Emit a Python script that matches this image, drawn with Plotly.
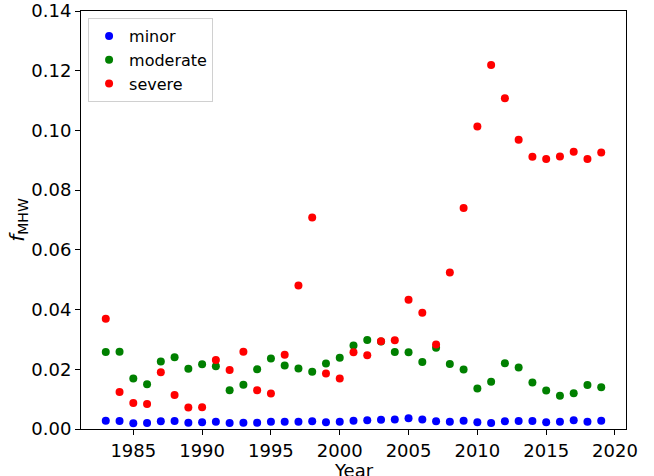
import plotly.graph_objects as go

years = list(range(1983, 2020))

minor = [0.0028, 0.0027, 0.0019, 0.0020, 0.0026, 0.0027, 0.0021, 0.0023, 0.0024, 0.0020,
         0.0021, 0.0021, 0.0024, 0.0024, 0.0024, 0.0026, 0.0023, 0.0024, 0.0028, 0.0029,
         0.0031, 0.0032, 0.0036, 0.0032, 0.0026, 0.0024, 0.0028, 0.0023, 0.0020, 0.0026,
         0.0027, 0.0027, 0.0023, 0.0024, 0.0029, 0.0024, 0.0028]

moderate = [0.0258, 0.0259, 0.0169, 0.0150, 0.0226, 0.0240, 0.0202, 0.0217, 0.0210, 0.0130,
            0.0148, 0.0200, 0.0236, 0.0213, 0.0203, 0.0192, 0.0219, 0.0239, 0.0280, 0.0298,
            0.0293, 0.0258, 0.0257, 0.0224, 0.0272, 0.0218, 0.0199, 0.0136, 0.0158, 0.0220,
            0.0206, 0.0156, 0.0129, 0.0111, 0.0120, 0.0147, 0.0140]

severe = [0.0369, 0.0124, 0.0087, 0.0084, 0.0190, 0.0114, 0.0072, 0.0073, 0.0231, 0.0198,
          0.0259, 0.0130, 0.0119, 0.0249, 0.0481, 0.0708, 0.0186, 0.0169, 0.0257, 0.0247,
          0.0294, 0.0297, 0.0433, 0.0389, 0.0283, 0.0524, 0.0740, 0.1013, 0.1219, 0.1108,
          0.0969, 0.0912, 0.0904, 0.0913, 0.0929, 0.0904, 0.0926]

series = [("minor", minor, "blue"), ("moderate", moderate, "green"), ("severe", severe, "red")]

x_ticks = [1985, 1990, 1995, 2000, 2005, 2010, 2015, 2020]

font_family = "DejaVu Sans"

fig = go.Figure()
for name, vals, color in series:
    fig.add_trace(go.Scatter(
        x=years, y=vals, mode="markers", name=name,
        marker=dict(color=color, size=8, line=dict(width=0)),
    ))

axis_common = dict(
    showline=True, linecolor="black", linewidth=1, mirror=True,
    ticks="outside", ticklen=5, tickwidth=1, tickcolor="black",
    showgrid=False, zeroline=False, automargin=False,
    tickfont=dict(family=font_family, size=18, color="black"),
)

fig.update_xaxes(
    range=[1981.2, 2020.8], tickvals=x_ticks,
    **axis_common,
)
fig.update_yaxes(
    range=[0, 0.14], dtick=0.02, tickformat=".2f",
    title=dict(text="<i>f</i><sub>MHW</sub>", font=dict(family=font_family, size=20, color="black"), standoff=0),
    **axis_common,
)

# x-axis title placed just under the tick labels, flush with the bottom edge
fig.add_annotation(
    text="Year", xref="paper", yref="paper", x=0.5, y=-0.126,
    xanchor="center", yanchor="bottom", showarrow=False, borderpad=0,
    font=dict(family=font_family, size=18, color="black"),
)

fig.update_layout(
    width=654, height=476,
    margin=dict(l=81, r=28, t=11, b=47),
    plot_bgcolor="white", paper_bgcolor="white",
    font=dict(family=font_family, color="black"),
    legend=dict(
        x=0.013, y=0.983, xanchor="left", yanchor="top",
        bgcolor="rgba(255,255,255,0.8)", bordercolor="#d0d0d0", borderwidth=1,
        font=dict(family=font_family, size=16, color="black"),
    ),
)

fig.write_html("out.html")
